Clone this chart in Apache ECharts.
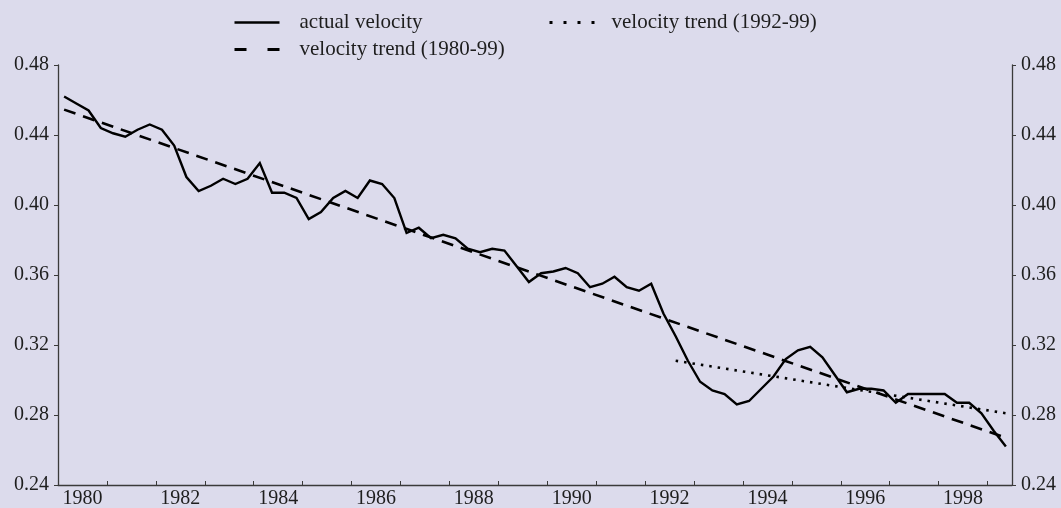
<!DOCTYPE html>
<html>
<head>
<meta charset="utf-8" />
<title>velocity</title>
<script src="https://cdn.jsdelivr.net/npm/echarts@6.0.0/dist/echarts.min.js"></script>
<style>
  html, body { margin: 0; padding: 0; background: #dcdbec; }
  #chart { width: 1061px; height: 508px; }
</style>
</head>
<body>
<div id="chart"></div>
<script>
// quarterly observations, 1980Q1 .. 1999Q2
const actualVelocity = [
  0.462, 0.458, 0.454, 0.444, 0.441, 0.439, 0.443, 0.446, 0.443, 0.434,
  0.416, 0.408, 0.411, 0.415, 0.412, 0.415, 0.424, 0.407, 0.407, 0.404,
  0.392, 0.396, 0.404, 0.408, 0.404, 0.414, 0.412, 0.404, 0.384, 0.387,
  0.381, 0.383, 0.381, 0.375, 0.373, 0.375, 0.374, 0.365, 0.356, 0.361,
  0.362, 0.364, 0.361, 0.353, 0.355, 0.359, 0.353, 0.351, 0.355, 0.338,
  0.325, 0.311, 0.299, 0.294, 0.292, 0.286, 0.288, 0.295, 0.302, 0.312,
  0.317, 0.319, 0.313, 0.303, 0.293, 0.295, 0.295, 0.294, 0.287, 0.292,
  0.292, 0.292, 0.292, 0.287, 0.287, 0.281, 0.271, 0.262
];

// straight trend lines: [quarter, value] at both ends
const trend8099 = [["1980Q1", 0.4545], ["1999Q2", 0.267]];
const trend9299 = [["1992Q3", 0.311], ["1999Q2", 0.281]];

const yTicks = [0.24, 0.28, 0.32, 0.36, 0.40, 0.44, 0.48];
const yearLabels = [1980, 1982, 1984, 1986, 1988, 1990, 1992, 1994, 1996, 1998];

const quarters = [];
for (let y = 1980; y <= 1999; y++) {
  for (let q = 1; q <= 4; q++) quarters.push(y + "Q" + q);
}

// mid-quarter position on a year scale
function quarterPos(label) {
  const parts = label.split("Q");
  return Number(parts[0]) + (Number(parts[1]) - 0.5) / 4;
}

const FONT = "Liberation Serif";
const TXT = "#1e1e1e";
const AXIS = "#3a3a3a";

const chart = echarts.init(document.getElementById("chart"), null, { renderer: "canvas" });

const yAxisBase = {
  type: "value",
  min: yTicks[0],
  max: yTicks[yTicks.length - 1],
  interval: 0.04,
  splitLine: { show: false },
  axisLine: { show: true, lineStyle: { color: AXIS, width: 1.3 } },
  axisTick: { show: true, length: 4, lineStyle: { color: AXIS, width: 1 } },
  axisLabel: {
    color: TXT, fontFamily: FONT, fontSize: 20, margin: 9,
    formatter: (v) => v.toFixed(2)
  }
};

const legendBase = {
  orient: "vertical",
  top: 12,
  padding: 0,
  itemWidth: 45,
  itemHeight: 14,
  itemGap: 6,
  itemStyle: { opacity: 0 }
};

chart.setOption({
  backgroundColor: "#dcdbec",
  animation: false,
  textStyle: { fontFamily: FONT },
  grid: { left: 58, right: 49, top: 65, bottom: 23, containLabel: false, outerBoundsMode: "none" },
  legend: [
    Object.assign({}, legendBase, {
      left: 233,
      textStyle: { fontFamily: FONT, fontSize: 21, color: TXT, lineHeight: 21, padding: [0, 0, 0, 15] },
      data: [
        { name: "actual velocity", lineStyle: { type: "solid", width: 2.6 } },
        { name: "velocity trend (1980-99)", lineStyle: { type: [12, 21], width: 3 } }
      ]
    }),
    Object.assign({}, legendBase, {
      left: 548,
      textStyle: { fontFamily: FONT, fontSize: 21, color: TXT, lineHeight: 21, padding: [0, 0, 0, 12] },
      data: [
        { name: "velocity trend (1992-99)", lineStyle: { type: [3, 11], width: 3 } }
      ]
    })
  ],
  xAxis: {
    type: "value",
    min: 1980,
    max: 1999.5,
    interval: 1,
    splitLine: { show: false },
    axisLine: { show: true, onZero: false, lineStyle: { color: AXIS, width: 1.3 } },
    axisTick: { show: true, inside: true, length: 4, lineStyle: { color: AXIS, width: 1 } },
    axisLabel: {
      color: TXT, fontFamily: FONT, fontSize: 20, margin: 4,
      customValues: yearLabels.map((y) => y + 0.5),
      formatter: (v) => String(Math.floor(v))
    }
  },
  yAxis: [
    Object.assign({}, yAxisBase, { position: "left" }),
    Object.assign({}, yAxisBase, { position: "right" })
  ],
  series: [
    {
      name: "actual velocity",
      type: "line",
      symbol: "none",
      data: actualVelocity.map((v, i) => [quarterPos(quarters[i]), v]),
      lineStyle: { color: "#000", width: 2.4, join: "miter" },
      itemStyle: { color: "#000" },
      z: 3
    },
    {
      name: "velocity trend (1980-99)",
      type: "line",
      symbol: "none",
      data: trend8099.map((d) => [quarterPos(d[0]), d[1]]),
      lineStyle: { color: "#000", width: 2.6, type: [12, 8] },
      itemStyle: { color: "#000" },
      z: 2
    },
    {
      name: "velocity trend (1992-99)",
      type: "line",
      symbol: "none",
      data: trend9299.map((d) => [quarterPos(d[0]), d[1]]),
      lineStyle: { color: "#000", width: 2.6, type: [2.5, 6] },
      itemStyle: { color: "#000" },
      z: 2
    }
  ]
});
</script>
</body>
</html>
